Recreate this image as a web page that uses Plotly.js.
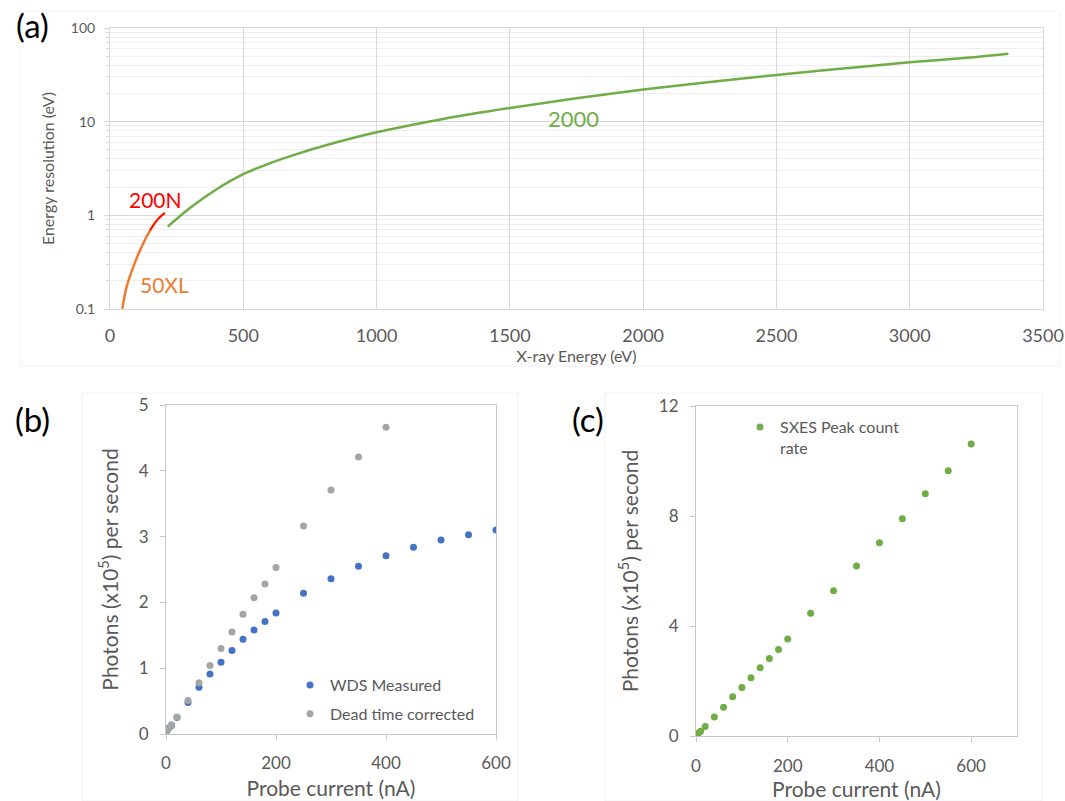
<!DOCTYPE html>
<html><head><meta charset="utf-8">
<script src="https://cdn.plot.ly/plotly-3.0.1.min.js"></script>
<style>html,body{margin:0;padding:0;background:#fff}</style>
</head><body><div id="chart" style="width:1065px;height:801px"></div>
<script>
// ---------- Panel (a): energy resolution vs X-ray energy ----------
const energy2000 = [217, 300, 400, 500, 600, 700, 800, 1000, 1250, 1500, 1750, 2000, 2250, 2500, 2750, 3000, 3250, 3370];
const res2000    = [0.76, 1.2, 1.9, 2.75, 3.6, 4.5, 5.5, 7.7, 10.7, 14, 17.8, 22, 26.5, 31.5, 37, 43, 49, 53];
const energy50XL = [46, 62, 87, 112, 137, 162, 181, 206];
const res50XL    = [0.1, 0.171, 0.28, 0.42, 0.59, 0.78, 0.92, 1.06];
const energy200N = [150, 162, 181, 206];
const res200N    = [0.69, 0.78, 0.92, 1.06];
const labelsA    = {name200N: '200N', name50XL: '50XL', name2000: '2000'};

// ---------- Panel (b): WDS photons vs probe current ----------
const currentB          = [2, 5, 10, 20, 40, 60, 80, 100, 120, 140, 160, 180, 200, 250, 300, 350, 400, 450, 500, 550, 600];
const wdsMeasured       = [0.05, 0.09, 0.13, 0.25, 0.48, 0.71, 0.91, 1.09, 1.27, 1.44, 1.58, 1.71, 1.84, 2.14, 2.36, 2.55, 2.71, 2.84, 2.95, 3.03, 3.10];
const currentDT         = [2, 5, 10, 20, 40, 60, 80, 100, 120, 140, 160, 180, 200, 250, 300, 350, 400];
const deadTimeCorrected = [0.05, 0.09, 0.14, 0.26, 0.51, 0.78, 1.04, 1.30, 1.55, 1.82, 2.07, 2.28, 2.53, 3.16, 3.71, 4.21, 4.66];

// ---------- Panel (c): SXES peak count rate vs probe current ----------
const currentC = [2, 5, 10, 20, 40, 60, 80, 100, 120, 140, 160, 180, 200, 250, 300, 350, 400, 450, 500, 550, 600];
const sxesPeak = [0.04, 0.1, 0.17, 0.35, 0.69, 1.05, 1.43, 1.76, 2.12, 2.48, 2.82, 3.15, 3.53, 4.46, 5.28, 6.18, 7.03, 7.90, 8.81, 9.65, 10.62];

const FONT = 'Lato, "Open Sans", sans-serif';
const GREY = '#595959';
const W = 1065, H = 801;
const dx = (a, b) => [a / W, b / W];
const dy = (top, bottom) => [(H - bottom) / H, (H - top) / H];

const traces = [
  {x: energy50XL, y: res50XL, type: 'scatter', mode: 'lines', line: {color: '#ed7d31', width: 2.5, shape: 'spline'}, xaxis: 'x', yaxis: 'y', showlegend: false, hoverinfo: 'skip'},
  {x: energy200N, y: res200N, type: 'scatter', mode: 'lines', line: {color: '#ff0000', width: 1.5, shape: 'spline'}, xaxis: 'x', yaxis: 'y', showlegend: false, hoverinfo: 'skip'},
  {x: energy2000, y: res2000, type: 'scatter', mode: 'lines', line: {color: '#70ad47', width: 2.5, shape: 'spline'}, xaxis: 'x', yaxis: 'y', showlegend: false, hoverinfo: 'skip'},
  {x: currentB, y: wdsMeasured, type: 'scatter', mode: 'markers', name: 'WDS Measured', marker: {color: '#4472c4', size: 7}, xaxis: 'x2', yaxis: 'y2', legend: 'legend', legendgroup: 'g1'},
  {x: currentDT, y: deadTimeCorrected, type: 'scatter', mode: 'markers', name: 'Dead time corrected', marker: {color: '#a5a5a5', size: 7}, xaxis: 'x2', yaxis: 'y2', legend: 'legend', legendgroup: 'g2'},
  {x: currentC, y: sxesPeak, type: 'scatter', mode: 'markers', name: 'SXES Peak count<br>rate', marker: {color: '#70ad47', size: 7}, xaxis: 'x3', yaxis: 'y3', legend: 'legend2'}
];

const photonsTitle = 'Photons (x10<sup>5</sup>) per second';

const layout = {
  width: W, height: H, autosize: false,
  margin: {l: 0, r: 0, t: 0, b: 0},
  paper_bgcolor: '#ffffff', plot_bgcolor: '#ffffff',
  font: {family: FONT, color: GREY},
  xaxis: {
    domain: dx(110, 1043), anchor: 'y', range: [0, 3500], dtick: 500, tick0: 0,
    showgrid: true, gridcolor: '#d9d9d9', zeroline: false,
    showline: true, linecolor: '#d9d9d9', mirror: true, ticks: '',
    tickfont: {size: 18, color: GREY}, ticklabelstandoff: 10,
    title: {text: 'X-ray Energy (eV)', font: {size: 16, color: GREY}, standoff: 3}
  },
  yaxis: {
    domain: dy(28, 309), anchor: 'x', type: 'log', range: [-1, 2], dtick: 1,
    showgrid: true, gridcolor: '#d9d9d9', zeroline: false,
    minor: {dtick: 'D1', showgrid: true, gridcolor: '#eeeeee', ticks: 'outside', ticklen: 3, tickcolor: '#d9d9d9'},
    showline: true, linecolor: '#d9d9d9', mirror: true,
    ticks: 'outside', ticklen: 5, tickcolor: '#d9d9d9',
    tickfont: {size: 14, color: GREY}, ticklabelstandoff: 6,
    title: {text: 'Energy resolution (eV)', font: {size: 16, color: GREY}, standoff: 12}
  },
  xaxis2: {
    domain: dx(166, 496), anchor: 'y2', range: [0, 600], dtick: 200, tick0: 0,
    showgrid: false, zeroline: false, showline: true, linecolor: '#c8c8c8', mirror: true,
    ticks: 'outside', ticklen: 5, tickcolor: '#c8c8c8',
    tickfont: {size: 17, color: GREY}, ticklabelstandoff: 9,
    title: {text: 'Probe current (nA)', font: {size: 21, color: GREY}, standoff: 8}
  },
  yaxis2: {
    domain: dy(405, 734), anchor: 'x2', range: [0, 5], dtick: 1, tick0: 0,
    showgrid: false, zeroline: false, showline: true, linecolor: '#c8c8c8', mirror: true,
    ticks: 'outside', ticklen: 5, tickcolor: '#c8c8c8',
    tickfont: {size: 17, color: GREY}, ticklabelstandoff: 8,
    title: {text: photonsTitle, font: {size: 21, color: GREY}, standoff: 14}
  },
  xaxis3: {
    domain: dx(696, 1017), anchor: 'y3', range: [0, 700], tickvals: [0, 200, 400, 600],
    showgrid: false, zeroline: false, showline: true, linecolor: '#c8c8c8', mirror: true,
    ticks: 'outside', ticklen: 5, tickcolor: '#c8c8c8',
    tickfont: {size: 17, color: GREY}, ticklabelstandoff: 10,
    title: {text: 'Probe current (nA)', font: {size: 21, color: GREY}, standoff: 5}
  },
  yaxis3: {
    domain: dy(406, 736), anchor: 'x3', range: [0, 12], dtick: 4, tick0: 0,
    showgrid: false, zeroline: false, showline: true, linecolor: '#c8c8c8', mirror: true,
    ticks: 'outside', ticklen: 5, tickcolor: '#c8c8c8',
    tickfont: {size: 17, color: GREY}, ticklabelstandoff: 8,
    title: {text: photonsTitle, font: {size: 21, color: GREY}, standoff: 14}
  },
  legend: {
    x: 290 / W, y: (H - 668) / H, xanchor: 'left', yanchor: 'top',
    bgcolor: 'rgba(0,0,0,0)', font: {size: 16, color: GREY},
    itemwidth: 30, tracegroupgap: 5, traceorder: 'grouped', itemclick: false
  },
  legend2: {
    x: 740 / W, y: (H - 410) / H, xanchor: 'left', yanchor: 'top',
    bgcolor: 'rgba(0,0,0,0)', font: {size: 16, color: GREY},
    itemwidth: 30, valign: 'top', itemclick: false
  },
  annotations: [
    {xref: 'x', yref: 'y', x: 169, y: 0.171, text: labelsA.name200N, showarrow: false, xanchor: 'center', yanchor: 'middle', font: {size: 21, color: '#ff0000'}},
    {xref: 'x', yref: 'y', x: 206, y: -0.738, text: labelsA.name50XL, showarrow: false, xanchor: 'center', yanchor: 'middle', font: {size: 21, color: '#ed7d31'}},
    {xref: 'x', yref: 'y', x: 1738, y: 1.037, text: labelsA.name2000, showarrow: false, xanchor: 'center', yanchor: 'middle', font: {size: 22, color: '#70ad47'}},
    {xref: 'paper', yref: 'paper', x: 32 / W, y: (H - 25) / H, text: '(a)', showarrow: false, xanchor: 'center', yanchor: 'middle', font: {size: 33, color: '#000000'}},
    {xref: 'paper', yref: 'paper', x: 32 / W, y: (H - 419) / H, text: '(b)', showarrow: false, xanchor: 'center', yanchor: 'middle', font: {size: 33, color: '#000000'}},
    {xref: 'paper', yref: 'paper', x: 588 / W, y: (H - 419) / H, text: '(c)', showarrow: false, xanchor: 'center', yanchor: 'middle', font: {size: 33, color: '#000000'}}
  ],
  shapes: [
    {type: 'rect', xref: 'paper', yref: 'paper', x0: 20 / W, x1: 1060 / W, y0: (H - 366) / H, y1: (H - 11) / H, line: {color: '#f0f0f0', width: 1}, layer: 'below'},
    {type: 'rect', xref: 'paper', yref: 'paper', x0: 82 / W, x1: 518 / W, y0: 0, y1: (H - 393) / H, line: {color: '#f0f0f0', width: 1}, layer: 'below'},
    {type: 'rect', xref: 'paper', yref: 'paper', x0: 605 / W, x1: 1042 / W, y0: 0, y1: (H - 393) / H, line: {color: '#f0f0f0', width: 1}, layer: 'below'}
  ]
};

Plotly.newPlot('chart', traces, layout, {displayModeBar: false, staticPlot: true});
</script>
</body></html>
